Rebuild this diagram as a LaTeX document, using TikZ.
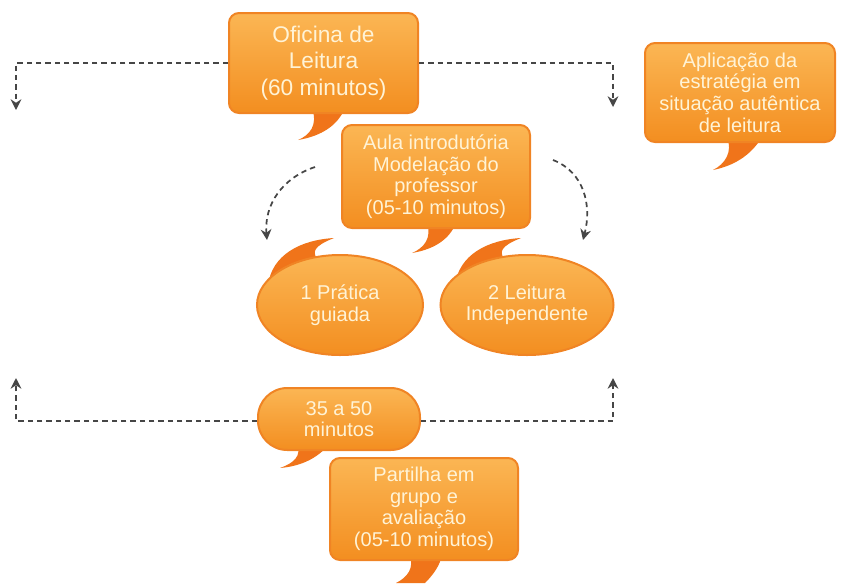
\documentclass[tikz,border=0pt]{standalone}
\usepackage{fontspec}
\setmainfont{Liberation Sans}
\usetikzlibrary{arrows.meta,shapes.geometric}

\definecolor{boxtop}{RGB}{251,182,84}
\definecolor{boxbot}{RGB}{243,142,32}
\definecolor{boxrim}{RGB}{240,132,36}
\definecolor{tailcol}{RGB}{240,116,26}
\definecolor{txtcream}{RGB}{255,243,214}
\definecolor{dashcol}{RGB}{70,70,70}

\tikzset{every picture/.style={line width=0.75pt}}
\tikzset{
  bubblebox/.style={draw=boxrim, line width=1.5pt, top color=boxtop, bottom color=boxbot,
    rounded corners=7.5pt, text=txtcream, align=center, inner sep=0pt,
    font=\fontsize{15}{16.2}\selectfont},
  bubbleoval/.style={ellipse, draw=boxrim, line width=1.5pt, top color=boxtop, bottom color=boxbot,
    text=txtcream, align=center, inner sep=0pt, font=\fontsize{15}{16.2}\selectfont},
  tailfill/.style={fill=tailcol, draw=none},
  dashline/.style={color=dashcol, line width=1.3pt, dash pattern={on 4pt off 3pt},
    -{Stealth[length=8pt,width=8pt]}}
}

\begin{document}
\begin{tikzpicture}[x=0.75pt,y=0.75pt,yscale=-1,xscale=1]
  \useasboundingbox (0,0) rectangle (847,583);

  %Tails
  \path[tailfill] (312,108) .. controls (318,125) and (310,135) .. (298,140) .. controls (322,136) and (338,125) .. (345,108) -- cycle;
  \path[tailfill] (727,137) .. controls (733,152) and (725,164) .. (713,170) .. controls (738,165) and (753,152) .. (762,137) -- cycle;
  \path[tailfill] (427,223) .. controls (432,238) and (424,248) .. (412,253) .. controls (436,249) and (450,238) .. (456,223) -- cycle;
  \path[tailfill] (268,285) .. controls (272,255) and (300,240) .. (334,238) .. controls (314,246) and (310,252) .. (320,262) -- cycle;
  \path[tailfill] (455,285) .. controls (459,255) and (487,240) .. (521,238) .. controls (501,246) and (497,252) .. (507,262) -- cycle;
  \path[tailfill] (297,443) .. controls (302,456) and (294,463) .. (280,468) .. controls (304,466) and (320,456) .. (330,443) -- cycle;
  \path[tailfill] (410,555) .. controls (414,568) and (408,577) .. (396,583) -- (425,583) .. controls (434,574) and (440,565) .. (442,555) -- cycle;

  %Speech boxes
  \node[bubblebox, minimum width=141.75pt, minimum height=75pt, font=\fontsize{17}{20}\selectfont] (ofic) at (323.5,63) {Oficina de\\Leitura\\(60 minutos)};
  \node[bubblebox, minimum width=142.5pt, minimum height=74.25pt] (aplic) at (740,92.5) {Aplicação da\\estratégia em\\situação autêntica\\de leitura};
  \node[bubblebox, minimum width=141pt, minimum height=77.25pt] (aula) at (436,176.5) {Aula introdutória\\Modelação do\\professor\\(05-10 minutos)};
  \node[bubbleoval, minimum width=124.5pt, minimum height=75pt] (prat) at (340,305) {1 Prática\\guiada};
  \node[bubbleoval, minimum width=125.25pt, minimum height=75pt] (indep) at (527,305) {2 Leitura\\Independente};
  \node[bubblebox, rounded corners=22pt, minimum width=121.5pt, minimum height=46.5pt] (mins) at (339,419) {35 a 50\\minutos};
  \node[bubblebox, minimum width=141pt, minimum height=76.5pt] (part) at (424,509) {Partilha em\\grupo e\\avaliação\\(05-10 minutos)};

  %Arrow ends
  \coordinate (tlarr) at (16,110);
  \coordinate (trarr) at (613,107);
  \coordinate (blarr) at (16,378);
  \coordinate (brarr) at (613,378);
  \coordinate (clstart) at (315,167);
  \coordinate (clend) at (267,240);
  \coordinate (crstart) at (553,160);
  \coordinate (crend) at (583,240);

  %Dashed connectors
  \draw[dashline] (ofic.west) -| (tlarr);
  \draw[dashline] (ofic.east) -| (trarr);
  \draw[dashline] (mins.west) ++(0,2) -| (blarr);
  \draw[dashline] (mins.east) ++(0,2) -| (brarr);
  \draw[dashline] (clstart) .. controls (282,178) and (264,205) .. (clend);
  \draw[dashline] (crstart) .. controls (584,172) and (592,205) .. (crend);
\end{tikzpicture}
\end{document}
